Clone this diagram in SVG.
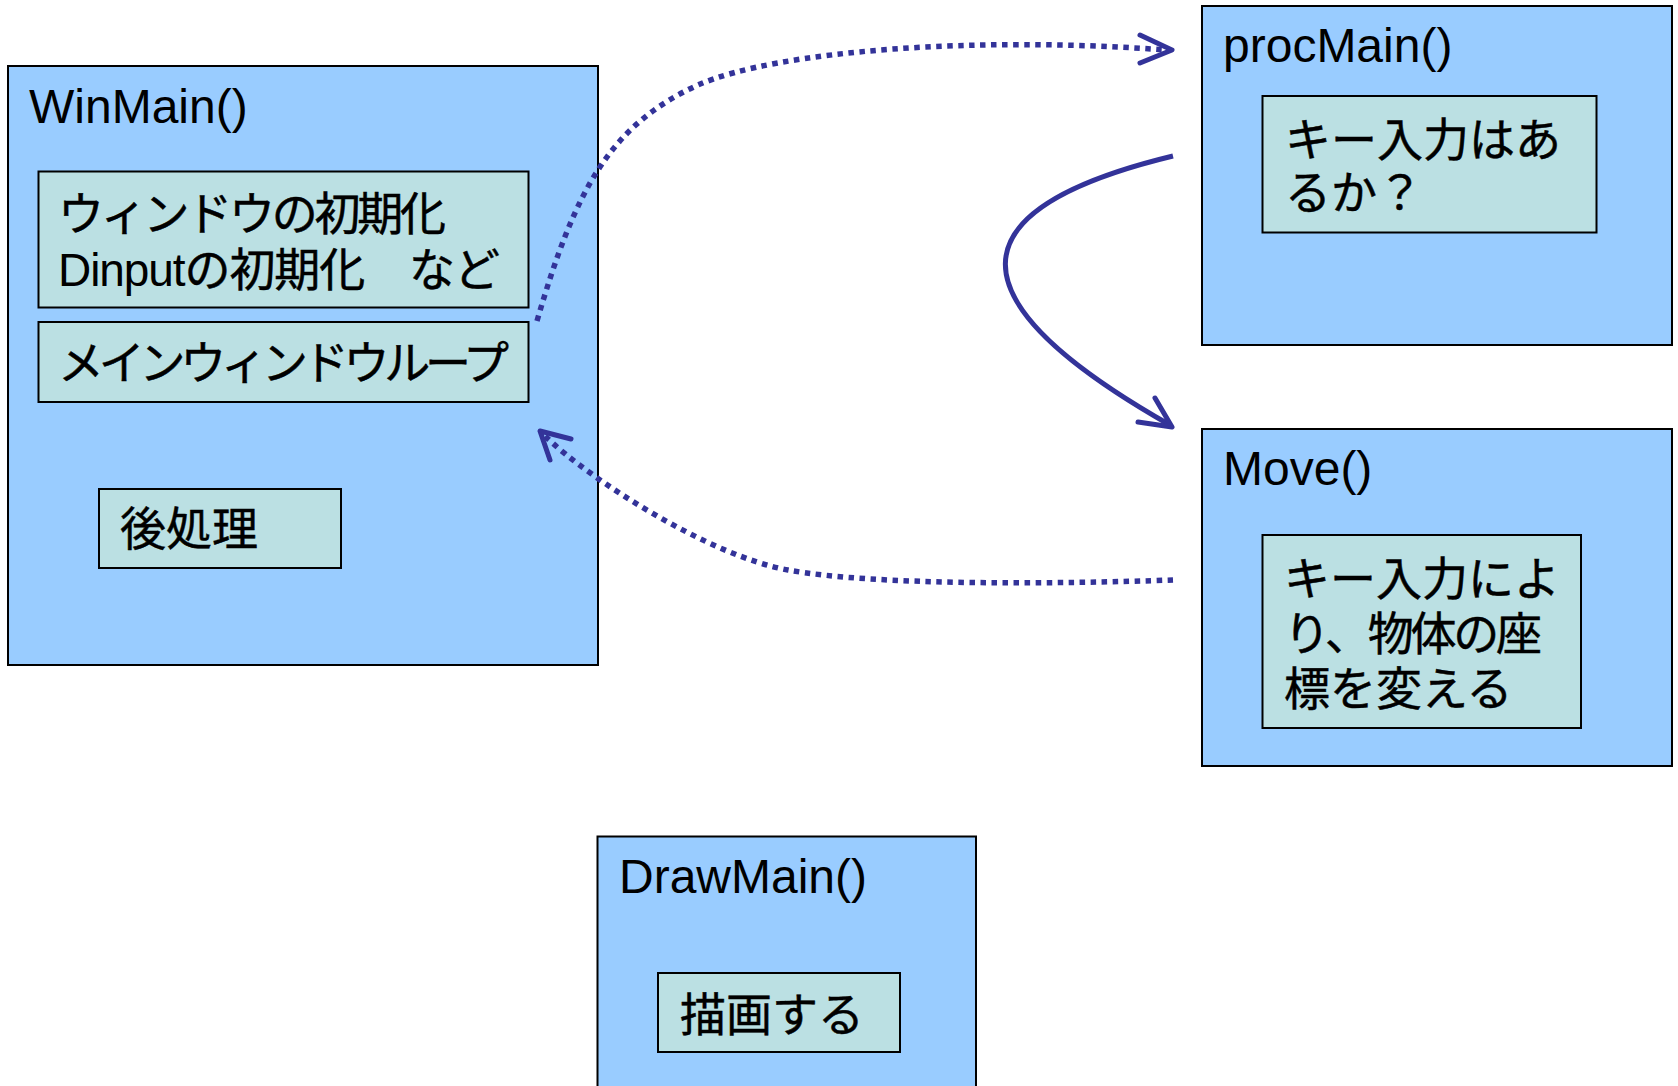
<svg xmlns="http://www.w3.org/2000/svg" width="1678" height="1086" viewBox="0 0 1678 1086">
<style>
.outer{fill:#99CCFF;stroke:#000;stroke-width:2}
.inner{fill:#BBE0E3;stroke:#000;stroke-width:2}
.t{font-family:"Liberation Sans","Noto Sans CJK JP",sans-serif;fill:#000}
.h{font-size:48px}
.j{font-size:46px;stroke:#000;stroke-width:0.5}
.lat{stroke:none}
.dot{fill:none;stroke:#333399;stroke-width:5.5;stroke-dasharray:5.5 5.5}
.sol{fill:none;stroke:#333399;stroke-width:5}
.ah{fill:none;stroke:#333399;stroke-width:5;stroke-linecap:round;stroke-linejoin:round}
</style>
<rect width="1678" height="1086" fill="#fff"/>
<g id="winmain">
<rect class="outer" x="8" y="66" width="590" height="599"/>
<text class="t h" x="29" y="123">WinMain()</text>
<g id="init">
<rect class="inner" x="38.5" y="171.5" width="490" height="136"/>
<text class="t j" x="58" y="230" textLength="388" lengthAdjust="spacing">ウィンドウの初期化</text>
<text class="t j" x="58" y="286" textLength="442" lengthAdjust="spacing"><tspan class="lat">Dinput</tspan>の初期化　など</text>
</g>
<g id="loop">
<rect class="inner" x="38.5" y="322" width="490" height="80"/>
<text class="t j" x="58" y="379" textLength="451" lengthAdjust="spacing">メインウィンドウループ</text>
</g>
<g id="post">
<rect class="inner" x="99" y="489" width="242" height="79"/>
<text class="t j" x="120" y="545">後処理</text>
</g>
</g>
<g id="procmain">
<rect class="outer" x="1202" y="6" width="470" height="339"/>
<text class="t h" x="1223" y="62">procMain()</text>
<g id="keycheck">
<rect class="inner" x="1262.5" y="96" width="334" height="136.5"/>
<text class="t j" x="1285" y="156">キー入力はあ</text>
<text class="t j" x="1285" y="209">るか？</text>
</g>
</g>
<g id="move">
<rect class="outer" x="1202" y="429" width="470" height="337"/>
<text class="t h" x="1223" y="485">Move()</text>
<g id="movebody">
<rect class="inner" x="1262.5" y="535" width="318.5" height="193"/>
<text class="t j" x="1284" y="595">キー入力によ</text>
<text class="t j" x="1284" y="650" textLength="258" lengthAdjust="spacing">り、物体の座</text>
<text class="t j" x="1284" y="705">標を変える</text>
</g>
</g>
<g id="drawmain">
<rect class="outer" x="597.5" y="836.5" width="378.5" height="260"/>
<text class="t h" x="619" y="893">DrawMain()</text>
<g id="draw">
<rect class="inner" x="658" y="973" width="242" height="79"/>
<text class="t j" x="680" y="1031">描画する</text>
</g>
</g>
<g id="connectors">
<path class="dot" d="M537,321 C575,190 610,125 698,85 C778,50 980,36 1166,50"/>
<polyline class="ah" points="1140,35 1172,50 1140,63"/>
<path class="sol" d="M1173,156 C950,210 950,300 1170,425"/>
<polyline class="ah" points="1155,398 1172,427 1138,422"/>
<path class="dot" d="M1173,580 C1060,584 875,586 788,570 C710,556 590,480 545,436"/>
<polyline class="ah" points="571,439 540,431 550,460"/>
</g>
</svg>
